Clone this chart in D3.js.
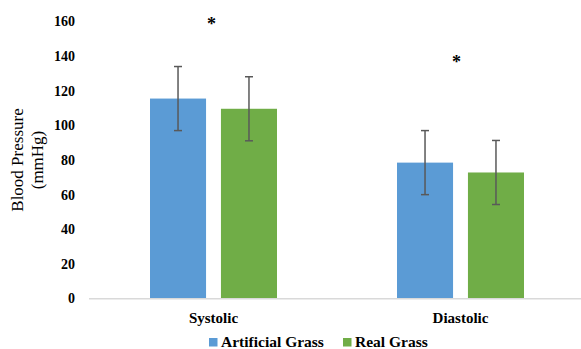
<!DOCTYPE html>
<html><head><meta charset="utf-8">
<script src="https://cdn.jsdelivr.net/npm/d3@7"></script>
<style>body{margin:0;background:#fff}svg{display:block}svg text{font-family:'Liberation Serif','Times New Roman',Times,serif !important}</style>
</head><body>
<svg id="c" width="581" height="349"></svg>
<script>
const categories = ["Systolic", "Diastolic"];
const seriesNames = ["Artificial Grass", "Real Grass"];
const artificialGrass = [115.2, 78.2];
const realGrass = [109.3, 72.5];
const artificialErr = [18.5, 18.5];
const realErr = [18.5, 18.5];
const significance = ["*", "*"];
const sigHeights = [161.5, 139.5];
const yTicks = [0, 20, 40, 60, 80, 100, 120, 140, 160];
const colors = ["#5b9bd5", "#70ad47"];

const svg = d3.select("#c");
const x0 = d3.scaleBand().domain(categories).range([90, 584]).paddingInner(0).paddingOuter(0);
const x1 = d3.scaleBand().domain(seriesNames).range([0, 127]).paddingInner(0.21);
const y = d3.scaleLinear().domain([0, 160]).range([298, 21]);
const groupOffset = (x0.bandwidth() - 127) / 2;

// y tick labels
const yAxis = d3.axisLeft(y).tickValues(yTicks).tickSize(0).tickPadding(0);
const gy = svg.append("g").attr("transform", "translate(75,0)").call(yAxis);
gy.select(".domain").remove();
gy.attr("font-family", null);
gy.selectAll("text").attr("font-weight", "bold")
  .attr("font-size", 14).attr("fill", "#000").attr("dy", "0.35em");

// y title
const yt = svg.append("text").attr("transform", "translate(23,160) rotate(-90)")
  .attr("text-anchor", "middle").attr("font-size", 17).attr("fill", "#000");
yt.append("tspan").attr("x", 0).attr("dy", 0).text("Blood Pressure");
yt.append("tspan").attr("x", 0).attr("dy", 20).text("(mmHg)");

const data = categories.map((c, i) => ({
  cat: c,
  vals: [
    {s: seriesNames[0], v: artificialGrass[i], e: artificialErr[i], color: colors[0]},
    {s: seriesNames[1], v: realGrass[i], e: realErr[i], color: colors[1]}
  ]
}));

const groups = svg.selectAll(".grp").data(data).enter().append("g")
  .attr("transform", d => `translate(${x0(d.cat) + groupOffset},0)`);

groups.selectAll("rect").data(d => d.vals).enter().append("rect")
  .attr("x", d => x1(d.s)).attr("width", x1.bandwidth())
  .attr("y", d => y(d.v)).attr("height", d => y(0) - y(d.v))
  .attr("fill", d => d.color);

// x axis line
svg.append("line").attr("x1", 89).attr("x2", 581).attr("y1", 298.7).attr("y2", 298.7)
  .attr("stroke", "#d9d9d9").attr("stroke-width", 1.5);

// error bars
const eb = groups.selectAll(".eb").data(d => d.vals).enter().append("g")
  .attr("stroke", "#595959").attr("stroke-width", 1.5);
eb.append("line").attr("x1", d => x1(d.s) + x1.bandwidth() / 2).attr("x2", d => x1(d.s) + x1.bandwidth() / 2)
  .attr("y1", d => y(d.v + d.e)).attr("y2", d => y(d.v - d.e));
eb.append("line").attr("x1", d => x1(d.s) + x1.bandwidth() / 2 - 4).attr("x2", d => x1(d.s) + x1.bandwidth() / 2 + 4)
  .attr("y1", d => y(d.v + d.e)).attr("y2", d => y(d.v + d.e));
eb.append("line").attr("x1", d => x1(d.s) + x1.bandwidth() / 2 - 4).attr("x2", d => x1(d.s) + x1.bandwidth() / 2 + 4)
  .attr("y1", d => y(d.v - d.e)).attr("y2", d => y(d.v - d.e));

// significance asterisks
svg.selectAll(".sig").data(categories).enter().append("text")
  .attr("x", (c, i) => x0(c) + x0.bandwidth() / 2 - 2 + (i === 1 ? -2 : 0))
  .attr("y", (c, i) => y(sigHeights[i]))
  .attr("text-anchor", "middle").attr("font-weight", "bold").attr("font-size", 18).attr("fill", "#000")
  .attr("dy", "0.62em")
  .text((c, i) => significance[i]);

// category labels
svg.selectAll(".cat").data(categories).enter().append("text")
  .attr("x", c => x0(c) + x0.bandwidth() / 2).attr("y", 323)
  .attr("text-anchor", "middle").attr("font-weight", "bold").attr("font-size", 15).attr("fill", "#000")
  .text(c => c);

// legend
const legX = [209, 343];
const leg = svg.selectAll(".leg").data(seriesNames).enter().append("g")
  .attr("transform", (d, i) => `translate(${legX[i]},0)`);
leg.append("rect").attr("x", 0).attr("y", 338).attr("width", 8.5).attr("height", 8.5)
  .attr("fill", (d, i) => colors[i]);
leg.append("text").attr("x", 12).attr("y", 346.5).attr("font-weight", "bold").attr("font-size", 15.5)
  .attr("fill", "#000").text(d => d);
</script>
</body></html>
